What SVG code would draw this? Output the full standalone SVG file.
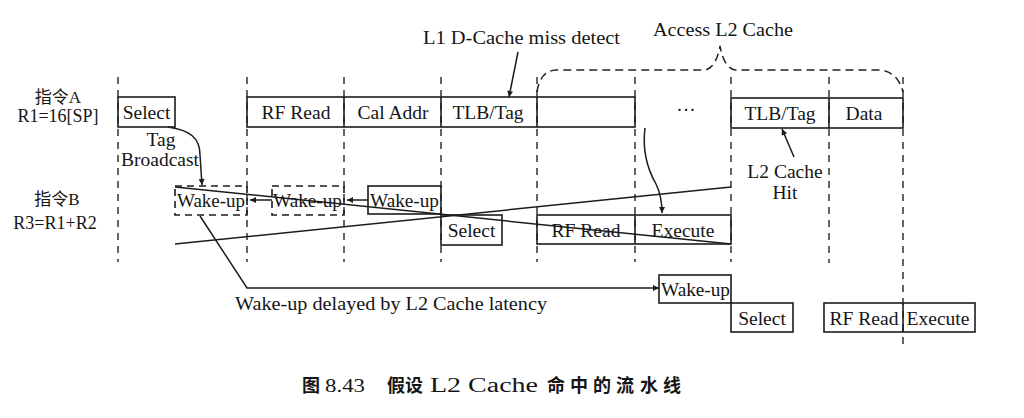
<svg xmlns="http://www.w3.org/2000/svg" width="1024" height="418" viewBox="0 0 1024 418">
<defs>
<marker id="ah" viewBox="0 0 10 10" refX="10" refY="5" markerWidth="10" markerHeight="6" markerUnits="userSpaceOnUse" orient="auto">
<path d="M0,0 L10,5 L0,10 Z" fill="#1a1a1a"/>
</marker>
<marker id="ahs" viewBox="0 0 10 10" refX="10" refY="5" markerWidth="11" markerHeight="6" markerUnits="userSpaceOnUse" orient="auto">
<path d="M0,0 L10,5 L0,10 Z" fill="#1a1a1a"/>
</marker>
<style>
.t{font-family:"Liberation Serif","Noto Sans CJK SC",serif;font-size:19.5px;fill:#151515}
.m{text-anchor:middle}
.cj{font-family:"Liberation Serif","Noto Sans CJK SC",serif;font-size:18px;fill:#151515;text-anchor:middle}
.cap{font-family:"Liberation Serif","Noto Sans CJK SC",sans-serif;font-size:18px;fill:#151515}
.capc{font-weight:bold}
.box{fill:none;stroke:#1c1c1c;stroke-width:1.6}
.dbox{fill:none;stroke:#1c1c1c;stroke-width:1.6;stroke-dasharray:7,5}
.vd{fill:none;stroke:#333;stroke-width:1.5;stroke-dasharray:7,6}
.ln{fill:none;stroke:#1c1c1c;stroke-width:1.5}
.br{fill:none;stroke:#222;stroke-width:1.5;stroke-dasharray:8,5}
</style>
</defs>
<rect width="1024" height="418" fill="#fff"/>

<g id="grid">
<line class="vd" x1="118" y1="77" x2="118" y2="262"/>
<line class="vd" x1="247" y1="77" x2="247" y2="262"/>
<line class="vd" x1="344" y1="77" x2="344" y2="262"/>
<line class="vd" x1="441" y1="77" x2="441" y2="262"/>
<line class="vd" x1="537" y1="77" x2="537" y2="262"/>
<line class="vd" x1="635" y1="77" x2="635" y2="262"/>
<line class="vd" x1="731" y1="77" x2="731" y2="262"/>
<line class="vd" x1="829" y1="77" x2="829" y2="263"/>
<line class="vd" x1="903" y1="77" x2="903" y2="347"/>
</g>

<g id="labelA">
<text class="cj" x="58" y="103" style="font-size:17px">指令A</text>
<text class="cj" x="58" y="122">R1=16[SP]</text>
</g>
<g id="labelB">
<text class="cj" x="57" y="205" style="font-size:17px">指令B</text>
<text class="cj" x="55" y="229">R3=R1+R2</text>
</g>

<g id="A-select">
<rect class="box" x="118" y="97" width="57" height="30"/>
<text class="t m" x="146.5" y="119">Select</text>
</g>
<g id="A-pipe">
<rect class="box" x="247" y="97" width="388" height="30"/>
<line class="box" x1="344" y1="97" x2="344" y2="127"/>
<line class="box" x1="441" y1="97" x2="441" y2="127"/>
<line class="box" x1="537" y1="97" x2="537" y2="127"/>
<text class="t m" x="296" y="119">RF Read</text>
<text class="t m" x="393" y="119">Cal Addr</text>
<text class="t m" x="488" y="119">TLB/Tag</text>
</g>
<g id="A-dots">
<text class="t m" x="686" y="116">···</text>
</g>
<g id="A-l2">
<rect class="box" x="731" y="98" width="172" height="30"/>
<line class="box" x1="829" y1="98" x2="829" y2="128"/>
<text class="t m" x="780" y="120">TLB/Tag</text>
<text class="t m" x="864" y="120">Data</text>
</g>

<g id="B-wake1">
<rect class="dbox" x="175" y="186" width="72" height="29"/>
<text class="t" x="177" y="207" textLength="68" lengthAdjust="spacingAndGlyphs">Wake-up</text>
</g>
<g id="B-wake2">
<rect class="dbox" x="272" y="186" width="72" height="29"/>
<text class="t" x="273" y="207" textLength="69" lengthAdjust="spacingAndGlyphs">Wake-up</text>
</g>
<g id="B-wake3">
<rect class="box" x="368" y="186" width="73" height="28"/>
<text class="t" x="370" y="207" textLength="69" lengthAdjust="spacingAndGlyphs">Wake-up</text>
</g>
<g id="B-select">
<rect class="box" x="441" y="215" width="61" height="30"/>
<text class="t m" x="471.5" y="237">Select</text>
</g>
<g id="B-pipe">
<rect class="box" x="537" y="215" width="194" height="29"/>
<line class="box" x1="635" y1="215" x2="635" y2="244"/>
<text class="t m" x="586" y="237">RF Read</text>
<text class="t m" x="683" y="237">Execute</text>
</g>

<g id="C-wake">
<rect class="box" x="659" y="275" width="72" height="28"/>
<text class="t" x="661" y="296" textLength="69" lengthAdjust="spacingAndGlyphs">Wake-up</text>
</g>
<g id="C-select">
<rect class="box" x="731" y="303" width="62" height="29"/>
<text class="t m" x="762" y="325">Select</text>
</g>
<g id="C-pipe">
<rect class="box" x="824" y="303" width="151" height="29"/>
<line class="box" x1="903" y1="303" x2="903" y2="332"/>
<text class="t m" x="864" y="325">RF Read</text>
<text class="t m" x="938" y="325">Execute</text>
</g>

<g id="labels">
<text class="t m" x="161" y="146">Tag</text>
<text class="t m" x="160" y="166">Broadcast</text>
<text class="t" x="423" y="44" textLength="197" lengthAdjust="spacingAndGlyphs">L1 D-Cache miss detect</text>
<text class="t" x="653" y="36" textLength="140" lengthAdjust="spacingAndGlyphs">Access L2 Cache</text>
<text class="t m" x="785" y="178">L2 Cache</text>
<text class="t m" x="785" y="199">Hit</text>
<text class="t" x="235" y="310" textLength="312" lengthAdjust="spacingAndGlyphs">Wake-up delayed by L2 Cache latency</text>
</g>

<g id="connectors">
<line class="ln" x1="175" y1="187" x2="731" y2="244"/>
<line class="ln" x1="175" y1="244" x2="731" y2="187"/>
<line class="ln" x1="272" y1="200" x2="250" y2="200" marker-end="url(#ahs)"/>
<line class="ln" x1="368" y1="200" x2="347" y2="200" marker-end="url(#ahs)"/>
<path class="ln" d="M168,127 C190,130 200,138 200,155 L202,185" marker-end="url(#ah)"/>
<path class="ln" d="M645,128 C642,152 648,170 656,184 C661,194 662,202 662,213" marker-end="url(#ah)"/>
<line class="ln" x1="518" y1="52" x2="509" y2="97" marker-end="url(#ah)"/>
<line class="ln" x1="794" y1="157" x2="782" y2="129" marker-end="url(#ah)"/>
<path class="ln" d="M200,216 L247,288 L659,288" marker-end="url(#ah)"/>
<path class="br" d="M537,92 Q540,71 556,70 L705,70 Q716,68 720,46 Q724,68 735,70 L880,70 Q898,72 903,92"/>
</g>

<g id="caption">
<text class="cap" y="392"><tspan class="capc" x="302">图</tspan><tspan x="325" textLength="40" lengthAdjust="spacingAndGlyphs">8.43</tspan><tspan class="capc" x="387">假设</tspan><tspan x="430" style="font-size:20px" textLength="108" lengthAdjust="spacingAndGlyphs">L2 Cache</tspan><tspan class="capc" x="547">命</tspan><tspan class="capc" x="570">中</tspan><tspan class="capc" x="593">的</tspan><tspan class="capc" x="616">流</tspan><tspan class="capc" x="640">水</tspan><tspan class="capc" x="663">线</tspan></text>
</g>
</svg>
